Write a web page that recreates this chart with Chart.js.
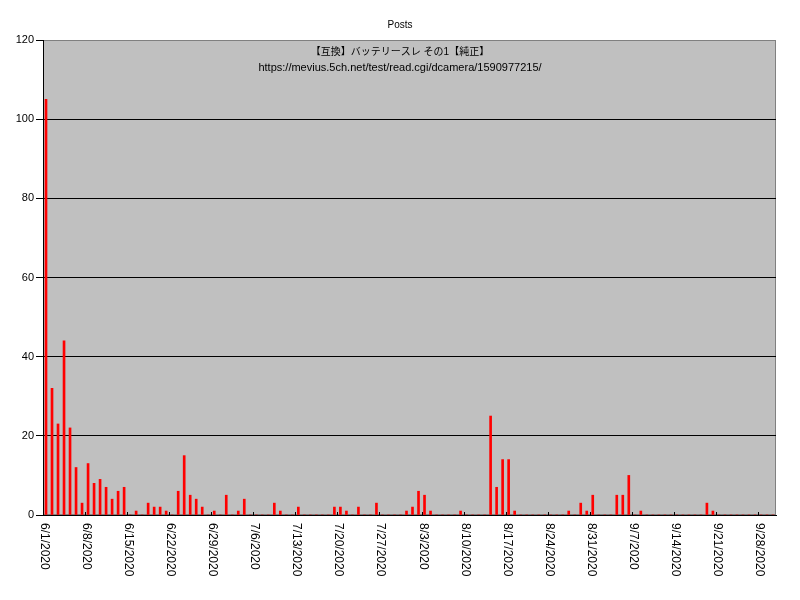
<!DOCTYPE html>
<html>
<head>
    <meta charset="utf-8">
    <title>Posts</title>
    <script src="https://cdn.jsdelivr.net/npm/chart.js"></script>
    <style>
        html, body { margin: 0; padding: 0; background: #fff; }
    </style>
</head>
<body>
    <canvas id="posts-chart" width="800" height="600"></canvas>

    <script>
        // 日付 (カテゴリ)
        const juneDays = ['6/1/2020','6/2/2020','6/3/2020','6/4/2020','6/5/2020','6/6/2020','6/7/2020','6/8/2020','6/9/2020','6/10/2020',
            '6/11/2020','6/12/2020','6/13/2020','6/14/2020','6/15/2020','6/16/2020','6/17/2020','6/18/2020','6/19/2020','6/20/2020',
            '6/21/2020','6/22/2020','6/23/2020','6/24/2020','6/25/2020','6/26/2020','6/27/2020','6/28/2020','6/29/2020','6/30/2020'];
        const julyDays = ['7/1/2020','7/2/2020','7/3/2020','7/4/2020','7/5/2020','7/6/2020','7/7/2020','7/8/2020','7/9/2020','7/10/2020',
            '7/11/2020','7/12/2020','7/13/2020','7/14/2020','7/15/2020','7/16/2020','7/17/2020','7/18/2020','7/19/2020','7/20/2020',
            '7/21/2020','7/22/2020','7/23/2020','7/24/2020','7/25/2020','7/26/2020','7/27/2020','7/28/2020','7/29/2020','7/30/2020','7/31/2020'];
        const augustDays = ['8/1/2020','8/2/2020','8/3/2020','8/4/2020','8/5/2020','8/6/2020','8/7/2020','8/8/2020','8/9/2020','8/10/2020',
            '8/11/2020','8/12/2020','8/13/2020','8/14/2020','8/15/2020','8/16/2020','8/17/2020','8/18/2020','8/19/2020','8/20/2020',
            '8/21/2020','8/22/2020','8/23/2020','8/24/2020','8/25/2020','8/26/2020','8/27/2020','8/28/2020','8/29/2020','8/30/2020','8/31/2020'];
        const septemberDays = ['9/1/2020','9/2/2020','9/3/2020','9/4/2020','9/5/2020','9/6/2020','9/7/2020','9/8/2020','9/9/2020','9/10/2020',
            '9/11/2020','9/12/2020','9/13/2020','9/14/2020','9/15/2020','9/16/2020','9/17/2020','9/18/2020','9/19/2020','9/20/2020',
            '9/21/2020','9/22/2020','9/23/2020','9/24/2020','9/25/2020','9/26/2020','9/27/2020','9/28/2020','9/29/2020','9/30/2020'];

        // 書き込み数
        const junePosts = [105, 32, 23, 44, 22, 12, 3, 13, 8, 9, 7, 4, 6, 7, 0, 1, 0, 3, 2, 2, 1, 0, 6, 15, 5, 4, 2, 0, 1, 0];
        const julyPosts = [5, 0, 1, 4, 0, 0, 0, 0, 3, 1, 0, 0, 2, 0, 0, 0, 0, 0, 2, 2, 1, 0, 2, 0, 0, 3, 0, 0, 0, 0, 1];
        const augustPosts = [2, 6, 5, 1, 0, 0, 0, 0, 1, 0, 0, 0, 0, 25, 7, 14, 14, 1, 0, 0, 0, 0, 0, 0, 0, 0, 1, 0, 3, 1, 5];
        const septemberPosts = [0, 0, 0, 5, 5, 10, 0, 1, 0, 0, 0, 0, 0, 0, 0, 0, 0, 0, 3, 1, 0, 0, 0, 0, 0, 0, 0, 0, 0, 0];

        // 表示する目盛りラベル
        const tickLabels = ['6/1/2020', '6/8/2020', '6/15/2020', '6/22/2020', '6/29/2020', '7/6/2020', '7/13/2020', '7/20/2020',
            '7/27/2020', '8/3/2020', '8/10/2020', '8/17/2020', '8/24/2020', '8/31/2020', '9/7/2020', '9/14/2020', '9/21/2020', '9/28/2020'];
        const yTicks = [0, 20, 40, 60, 80, 100, 120];

        const chartTitle = 'Posts';
        const threadTitle = '【互換】バッテリースレ その1【純正】';
        const threadUrl = 'https://mevius.5ch.net/test/read.cgi/dcamera/1590977215/';

        const days = juneDays.concat(julyDays, augustDays, septemberDays);
        const posts = junePosts.concat(julyPosts, augustPosts, septemberPosts);

        const labelFont = '12px "Liberation Sans", "DejaVu Sans", sans-serif';

        // 背景・x軸ラベル・タイトル
        const decor = {
            id: 'decor',
            beforeDraw(chart) {
                const { ctx, chartArea: a } = chart;
                ctx.save();
                ctx.fillStyle = '#c0c0c0';
                ctx.fillRect(a.left, a.top, a.right - a.left, a.bottom - a.top);
                ctx.strokeStyle = '#808080';
                ctx.lineWidth = 1;
                ctx.strokeRect(a.left + 0.5, a.top + 0.5, a.right - a.left - 1, a.bottom - a.top - 1);
                ctx.restore();
            },
            afterDraw(chart) {
                const { ctx, chartArea: a, scales: { x } } = chart;
                const half = (x.getPixelForValue(1) - x.getPixelForValue(0)) / 2;
                ctx.save();
                ctx.fillStyle = '#000';
                ctx.strokeStyle = '#000';
                ctx.lineWidth = 1;
                ctx.font = labelFont;
                days.forEach((d, i) => {
                    if (!tickLabels.includes(d)) return;
                    const px = Math.round(x.getPixelForValue(i) - half) + 0.5;
                    ctx.beginPath();
                    ctx.moveTo(px, a.bottom);
                    ctx.lineTo(px, a.bottom - 3);
                    ctx.stroke();
                    ctx.save();
                    ctx.translate(px + 1, a.bottom + 8);
                    ctx.rotate(Math.PI / 2);
                    ctx.textAlign = 'left';
                    ctx.textBaseline = 'middle';
                    ctx.fillText(d, 0, 0);
                    ctx.restore();
                });
                ctx.textAlign = 'center';
                ctx.textBaseline = 'middle';
                ctx.font = '10px "Liberation Sans", "DejaVu Sans", sans-serif';
                ctx.fillText(chartTitle, 400, 25);
                ctx.font = '10px "Liberation Sans", "Noto Sans CJK JP", sans-serif';
                ctx.fillText(threadTitle, 400, 52);
                ctx.font = '11px "Liberation Sans", "DejaVu Sans", sans-serif';
                ctx.fillText(threadUrl, 400, 68);
                ctx.restore();
            }
        };

        new Chart(document.getElementById('posts-chart'), {
            type: 'bar',
            data: {
                labels: days,
                datasets: [{
                    label: chartTitle,
                    data: posts,
                    backgroundColor: '#ff0000',
                    borderWidth: 0,
                    barThickness: 2
                }]
            },
            options: {
                responsive: false,
                animation: false,
                layout: { padding: { top: 40, right: 24, left: 0, bottom: 0 } },
                plugins: {
                    legend: { display: false },
                    tooltip: { enabled: false }
                },
                scales: {
                    x: {
                        grid: { display: false },
                        border: { color: '#000' },
                        ticks: { display: false },
                        afterFit: s => { s.height = 85; }
                    },
                    y: {
                        min: 0,
                        max: 120,
                        afterBuildTicks: s => { s.ticks = yTicks.map(v => ({ value: v })); },
                        ticks: {
                            color: '#000',
                            padding: 2,
                            font: { family: 'Liberation Sans', size: 11 }
                        },
                        grid: {
                            color: c => (c.tick && c.tick.value === 120) ? '#808080' : '#000',
                            tickColor: '#000',
                            tickLength: 7,
                            lineWidth: 1
                        },
                        border: { color: '#000' },
                        afterFit: s => { s.width = 43; }
                    }
                }
            },
            plugins: [decor]
        });
    </script>
</body>
</html>
